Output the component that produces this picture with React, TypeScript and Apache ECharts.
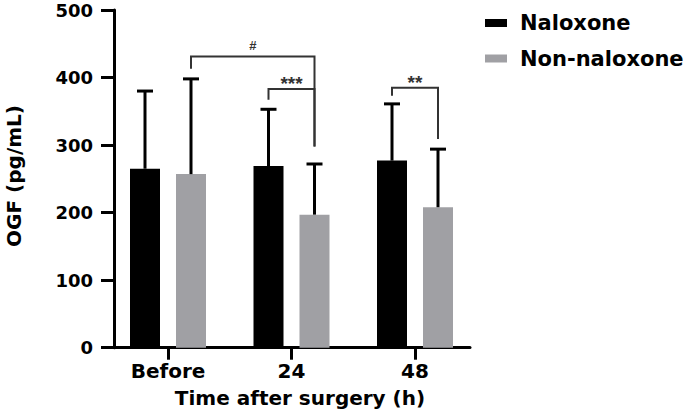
import React, { useEffect, useRef } from "react";
import * as echarts from "echarts";

const categories = ["Before", "24", "48"];
const seriesNames = ["Naloxone", "Non-naloxone"];
const naloxoneMean = [265, 269, 277];
const naloxoneUpper = [380, 353, 361];
const nonNaloxoneMean = [257, 197, 208];
const nonNaloxoneUpper = [398, 272, 294];
const yMin = 0;
const yMax = 500;
const yInterval = 100;

// Significance brackets: [category, group(0=Naloxone,1=Non-naloxone)] ends and y values
const bracketLabels = ["#", "***", "**"];
const bracketFromCat = [0, 1, 2];
const bracketFromGroup = [1, 0, 0];
const bracketToCat = [1, 1, 2];
const bracketToGroup = [1, 1, 1];
const bracketLeftY = [413, 367, 373];
const bracketTopY = [431, 383, 385];
const bracketRightY = [298, 298, 309];

const BAR_WIDTH = 30;
const BAR_GAP_PX = 16;
const PAIR_OFFSET = (BAR_WIDTH + BAR_GAP_PX) / 2;
const FONT = "DejaVu Sans";

export default function App() {
  const ref = useRef<HTMLDivElement>(null);
  useEffect(() => {
    if (!ref.current) return;
    const chart = echarts.init(ref.current, null, { renderer: "svg" });
    const groupOffset = (g: number) => (g === 0 ? -PAIR_OFFSET : PAIR_OFFSET);

    const errorSeries = (mean: number[], upper: number[], group: number) => ({
      type: "custom",
      xAxisIndex: 0,
      yAxisIndex: 0,
      clip: false,
      silent: true,
      z: 3,
      encode: { x: 0, y: [1, 2] },
      data: categories.map((_, i) => [i, mean[i], upper[i]]),
      renderItem: (params: any, api: any) => {
        const c = api.value(0);
        const p0 = api.coord([c, api.value(1)]);
        const p1 = api.coord([c, api.value(2)]);
        const x = p0[0] + groupOffset(group);
        return {
          type: "group",
          children: [
            { type: "line", shape: { x1: x, y1: p0[1], x2: x, y2: p1[1] }, style: { stroke: "#000", lineWidth: 3 } },
            { type: "line", shape: { x1: x - 8, y1: p1[1], x2: x + 8, y2: p1[1] }, style: { stroke: "#000", lineWidth: 3 } },
          ],
        };
      },
    });

    const option: any = {
      animation: false,
      grid: [
        { left: 106.25, top: 10, width: 370.5, height: 337.7 },
        { left: 114, top: 10, width: 356, height: 337.7 },
      ],
      legend: {
        data: seriesNames,
        orient: "vertical",
        left: 480,
        top: 7.5,
        itemWidth: 22,
        itemHeight: 8,
        itemGap: 14.5,
        icon: "rect",
        textStyle: { fontFamily: FONT, fontWeight: "bold", fontSize: 21, color: "#000", padding: [0, 0, 0, 8] },
      },
      xAxis: [
        {
          type: "category",
          gridIndex: 0,
          data: categories,
          axisLine: { show: false },
          axisTick: { show: true, alignWithLabel: true, length: 12, lineStyle: { color: "#000", width: 3 } },
          axisLabel: { fontFamily: FONT, fontWeight: "bold", fontSize: 20, color: "#000", margin: 13 },
          splitLine: { show: false },
        },
        {
          type: "value",
          gridIndex: 1,
          min: 0,
          max: 1,
          axisLine: { show: true, lineStyle: { color: "#000", width: 3 } },
          axisTick: { show: false },
          axisLabel: { show: false },
          splitLine: { show: false },
        },
      ],
      yAxis: [
        { type: "value", gridIndex: 0, min: yMin, max: yMax, interval: yInterval, show: false },
        {
          type: "value",
          gridIndex: 1,
          min: yMin,
          max: yMax,
          interval: yInterval,
          axisLine: { show: true, lineStyle: { color: "#000", width: 3 } },
          axisTick: { show: true, length: 13, lineStyle: { color: "#000", width: 3 } },
          axisLabel: { fontFamily: FONT, fontWeight: "bold", fontSize: 18, color: "#000", margin: 21 },
          splitLine: { show: false },
        },
      ],
      graphic: [
        {
          type: "text",
          x: 300,
          y: 397.5,
          style: {
            text: "Time after surgery (h)",
            fontFamily: FONT,
            fontWeight: "bold",
            fontSize: 20,
            fill: "#000",
            textAlign: "center",
            textVerticalAlign: "middle",
            align: "center",
            verticalAlign: "middle",
          },
        },
        {
          type: "text",
          x: 14,
          y: 176,
          rotation: Math.PI / 2,
          style: {
            text: "OGF (pg/mL)",
            fontFamily: FONT,
            fontWeight: "bold",
            fontSize: 20,
            fill: "#000",
            textAlign: "center",
            textVerticalAlign: "middle",
            align: "center",
            verticalAlign: "middle",
          },
        },
      ],
      series: [
        {
          name: seriesNames[0],
          type: "bar",
          xAxisIndex: 0,
          yAxisIndex: 0,
          barWidth: BAR_WIDTH,
          barGap: (BAR_GAP_PX / BAR_WIDTH) * 100 + "%",
          itemStyle: { color: "#000" },
          data: naloxoneMean,
          z: 2,
        },
        {
          name: seriesNames[1],
          type: "bar",
          xAxisIndex: 0,
          yAxisIndex: 0,
          barWidth: BAR_WIDTH,
          barGap: (BAR_GAP_PX / BAR_WIDTH) * 100 + "%",
          itemStyle: { color: "#a0a0a4" },
          data: nonNaloxoneMean,
          z: 2,
        },
        errorSeries(naloxoneMean, naloxoneUpper, 0),
        errorSeries(nonNaloxoneMean, nonNaloxoneUpper, 1),
        {
          type: "custom",
          xAxisIndex: 0,
          yAxisIndex: 0,
          clip: false,
          silent: true,
          z: 4,
          encode: { x: 0, y: 4 },
          data: bracketLabels.map((_, i) => [
            bracketFromCat[i],
            bracketFromGroup[i],
            bracketToCat[i],
            bracketToGroup[i],
            bracketLeftY[i],
            bracketTopY[i],
            bracketRightY[i],
          ]),
          renderItem: (params: any, api: any) => {
            const i = params.dataIndex;
            const lc = api.value(0);
            const lg = api.value(1);
            const rc = api.value(2);
            const rg = api.value(3);
            const pL = api.coord([lc, api.value(4)]);
            const pT = api.coord([lc, api.value(5)]);
            const pR = api.coord([rc, api.value(6)]);
            const xL = pL[0] + groupOffset(lg);
            const xR = pR[0] + groupOffset(rg);
            const isHash = bracketLabels[i] === "#";
            return {
              type: "group",
              children: [
                {
                  type: "polyline",
                  shape: { points: [[xL, pL[1]], [xL, pT[1]], [xR, pT[1]], [xR, pR[1]]] },
                  style: { stroke: "#333", lineWidth: 2, fill: null },
                },
                {
                  type: "text",
                  x: (xL + xR) / 2,
                  y: isHash ? pT[1] - 11 : pT[1] - 15,
                  style: {
                    text: bracketLabels[i],
                    fontFamily: "Liberation Sans",
                    fontWeight: "bold",
                    fontSize: isHash ? 13 : 19,
                    fill: "#333",
                    textAlign: "center",
                    textVerticalAlign: isHash ? "middle" : "top",
                    align: "center",
                    verticalAlign: isHash ? "middle" : "top",
                  },
                },
              ],
            };
          },
        },
      ],
    };
    chart.setOption(option);
    return () => chart.dispose();
  }, []);
  return <div ref={ref} style={{ position: "fixed", left: 0, top: 0, width: 685, height: 414, background: "#fff" }} />;
}
